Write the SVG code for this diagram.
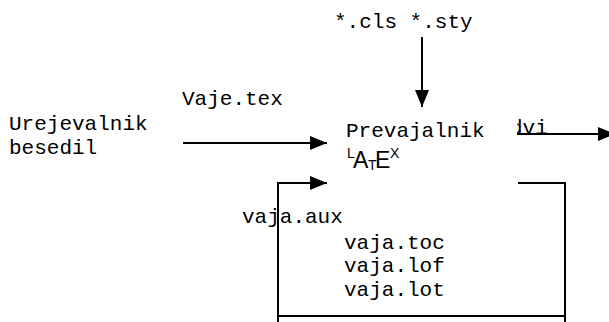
<svg xmlns="http://www.w3.org/2000/svg" width="609" height="322" viewBox="0 0 609 322">
<style>
.t{font-family:"Liberation Mono",monospace;font-size:21px;fill:#000}
.s{font-family:"Liberation Sans",Arial,sans-serif;fill:#000}
.c{stroke:#000;stroke-width:2;fill:none}
</style>
<defs>
<marker id="ah" markerWidth="18" markerHeight="14" refX="17" refY="7" orient="auto" markerUnits="userSpaceOnUse">
<path d="M0,0 L17,7 L0,14 Z" fill="#000"/>
</marker>
<clipPath id="dv"><rect x="517" y="100" width="92" height="50"/></clipPath>
</defs>
<g id="connectors">
<line class="c" x1="422" y1="37" x2="422" y2="107" marker-end="url(#ah)"/>
<line class="c" x1="183" y1="143" x2="327" y2="143" marker-end="url(#ah)"/>
<line class="c" x1="517" y1="134" x2="615" y2="134" marker-end="url(#ah)"/>
<polyline class="c" points="518,183 565,183 565,322"/>
<line class="c" x1="278" y1="316" x2="565" y2="316"/>
<polyline class="c" points="278,322 278,183 327,183" marker-end="url(#ah)"/>
</g>
<g id="styles"><text class="t" x="334" y="28">*.cls *.sty</text></g>
<g id="editor"><text class="t" x="9" y="130">Urejevalnik</text><text class="t" x="9" y="154">besedil</text></g>
<g id="vajetex"><text class="t" x="182" y="105">Vaje.tex</text></g>
<g id="compiler">
<text class="t" x="346" y="137">Prevajalnik</text>
<text class="s" x="347" y="158" font-size="14">L</text>
<text class="s" x="353" y="168" font-size="23">A</text>
<text class="s" x="368" y="170" font-size="14">T</text>
<text class="s" x="375" y="168" font-size="23">E</text>
<text class="s" x="390" y="158" font-size="14">X</text>
</g>
<g id="dvi"><text class="t" x="510" y="134" clip-path="url(#dv)">dvi</text></g>
<g id="aux"><text class="t" x="242" y="223">vaja.aux</text></g>
<g id="files">
<text class="t" x="344" y="249">vaja.toc</text>
<text class="t" x="344" y="272">vaja.lof</text>
<text class="t" x="344" y="296">vaja.lot</text>
</g>
</svg>
